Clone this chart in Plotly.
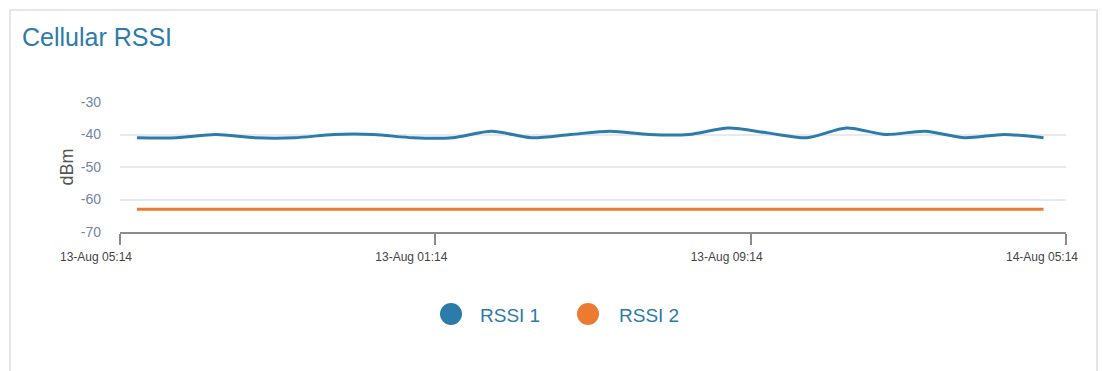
import plotly.graph_objects as go

# Hourly samples (hours after the first axis tick)
sample_hours = [0.43 + h for h in range(24)]

rssi_1 = [-41, -41, -40, -41, -41, -40, -40, -41, -41, -39, -41, -40,
          -39, -40, -40, -38, -39.5, -41, -38, -40, -39, -41, -40, -41]
rssi_2 = [-63] * 24

tick_hours = [0, 8, 16, 24]
tick_labels = ["13-Aug 05:14", "13-Aug 01:14", "13-Aug 09:14", "14-Aug 05:14"]

y_ticks = [-70, -60, -50, -40, -30]
y_tick_labels = ["-70", "-60", "-50", "-40", "-30"]

series_names = ["RSSI 1", "RSSI 2"]
series_colors = ["#2b7bab", "#ec7a30"]

W, H = 1103, 371
ML, MR, MT, MB = 120, 37, 102, 139
PW, PH = W - ML - MR, H - MT - MB


def px_x(px):
    return (px - ML) / PW


def px_y(py):
    return (H - MB - py) / PH


fig = go.Figure()
fig.add_trace(go.Scatter(
    x=sample_hours, y=rssi_1, name=series_names[0], mode="lines",
    line=dict(color=series_colors[0], width=3, shape="spline", smoothing=0.8),
    showlegend=False,
))
fig.add_trace(go.Scatter(
    x=sample_hours, y=rssi_2, name=series_names[1], mode="lines",
    line=dict(color=series_colors[1], width=3),
    showlegend=False,
))

shapes = [
    # card outline
    dict(type="rect", xref="paper", yref="paper",
         x0=px_x(10), x1=px_x(1097), y0=px_y(400), y1=px_y(10),
         line=dict(color="#e6e6e6", width=2), fillcolor="rgba(0,0,0,0)", layer="below"),
]
annotations = []

# legend: large round swatches with labels
legend_items = [(451, 478), (588, 617)]
for (cx, tx), name, color in zip(legend_items, series_names, series_colors):
    r = 11
    shapes.append(dict(type="circle", xref="paper", yref="paper",
                       x0=px_x(cx - r), x1=px_x(cx + r),
                       y0=px_y(314 + r), y1=px_y(314 - r),
                       line=dict(width=0), fillcolor=color))
    annotations.append(dict(xref="paper", yref="paper", x=px_x(tx), y=px_y(315),
                            text=name, showarrow=False, xanchor="left", yanchor="middle",
                            font=dict(family="Liberation Sans, Arial", size=19, color="#2b7bab")))

fig.update_layout(
    width=W, height=H,
    margin=dict(l=ML, r=MR, t=MT, b=MB),
    paper_bgcolor="white", plot_bgcolor="white",
    title=dict(text="Cellular RSSI", x=22 / W, xref="container", xanchor="left",
               y=1 - 28 / H, yref="container", yanchor="top",
               font=dict(family="Liberation Sans, Arial", size=25, color="#2b7bab")),
    shapes=shapes,
    annotations=annotations,
    showlegend=False,
)

fig.update_xaxes(
    range=[0, 24], tickvals=tick_hours, ticktext=tick_labels,
    showgrid=False, zeroline=False,
    showline=True, linecolor="#8c8c8c", linewidth=2,
    ticks="outside", ticklen=11, tickwidth=2, tickcolor="#8c8c8c",
    ticklabelshift=-24, ticklabelstandoff=2,
    tickfont=dict(family="Liberation Sans, Arial", size=12, color="#444444"),
)
fig.update_yaxes(
    range=[-70, -30], tickvals=y_ticks, ticktext=y_tick_labels,
    showgrid=True, gridcolor="#e6eaf0", gridwidth=1.5,
    zeroline=False, showline=False,
    ticklabelstandoff=18,
    tickfont=dict(family="Liberation Sans, Arial", size=14, color="#7385a0"),
    title=dict(text="dBm", standoff=2,
               font=dict(family="Liberation Sans, Arial", size=18, color="#555555")),
)

fig.write_html("out.html")
